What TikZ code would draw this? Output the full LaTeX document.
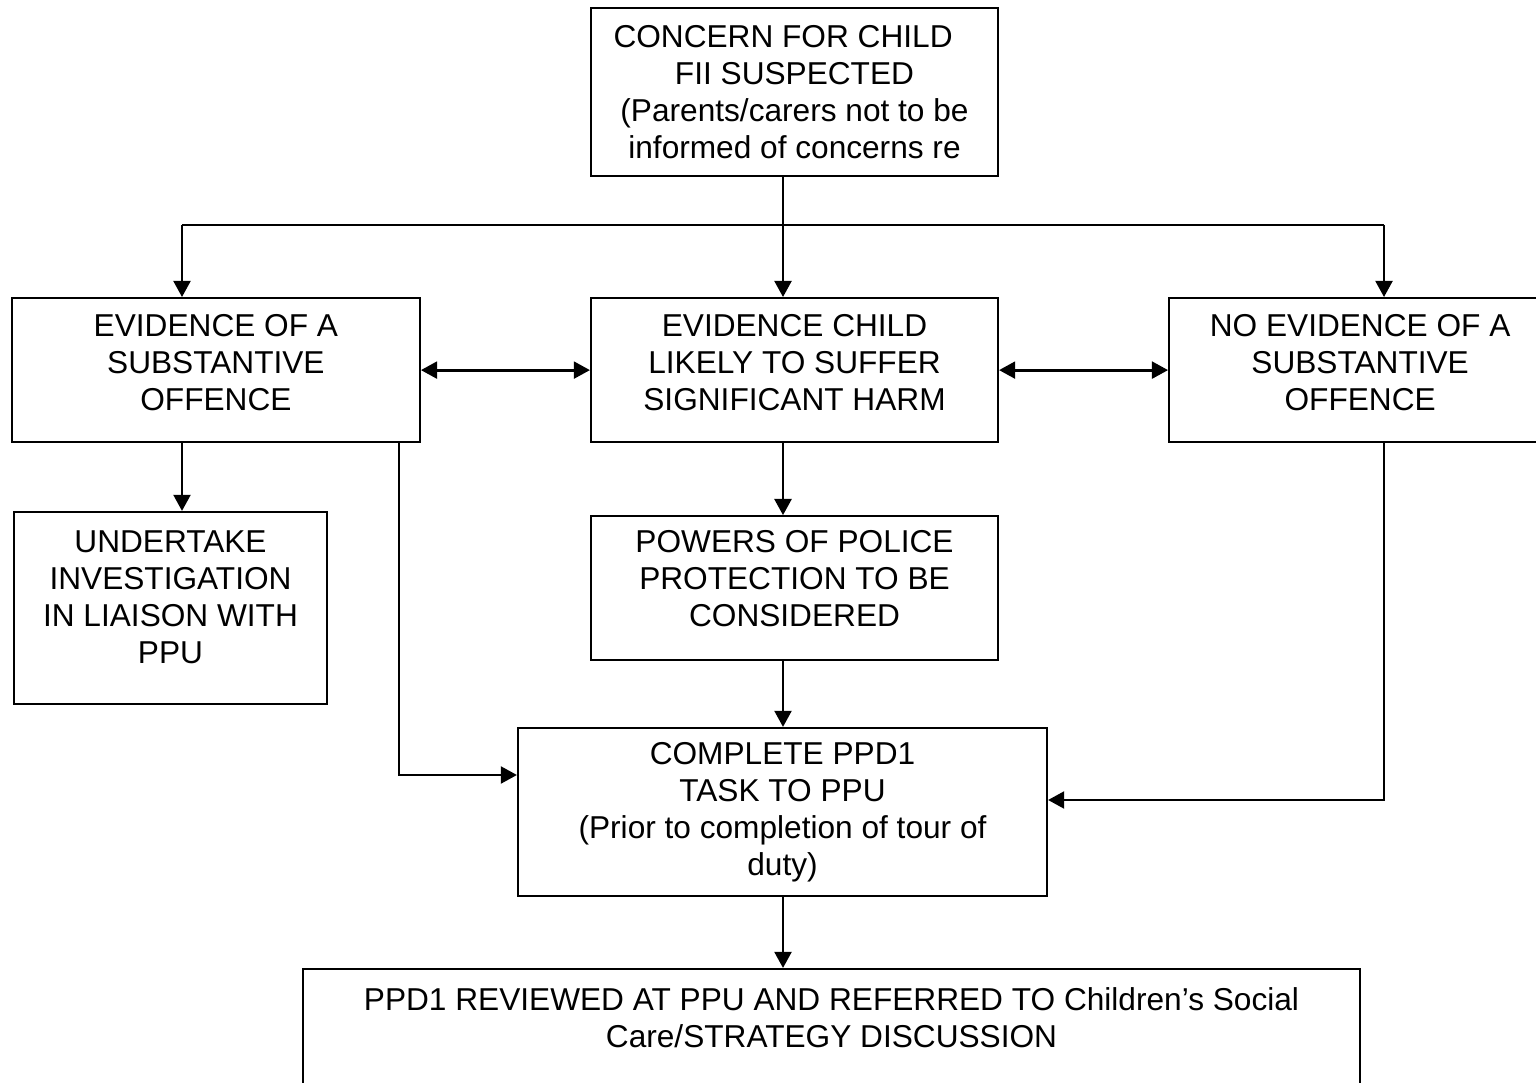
\documentclass[tikz,border=0pt]{standalone}
\usepackage{fontspec}
\setmainfont{Liberation Sans}
\usetikzlibrary{arrows.meta,positioning}

\begin{document}
\begin{tikzpicture}[node distance=7.2mm and 16.9mm,>={Triangle[length=4.6pt,width=4.8pt]},
 box/.style={draw,line width=.6pt,align=center,minimum width=40.7mm,minimum height=14.4mm,inner sep=3pt,font=\fontsize{9}{10.5}\selectfont},
 link/.style={line width=.8pt}]
\useasboundingbox (0,0) rectangle (15.36,-10.83);
\clip (0,0) rectangle (15.36,-10.83);
\node[box,minimum height=16.8mm] (top) at (7.945,-0.92) {CONCERN FOR CHILD\hspace*{6.5pt}\\FII SUSPECTED\\(Parents/carers not to be\\informed of concerns re};
\node[box,below=12mm of top] (mid) {EVIDENCE CHILD\\LIKELY TO SUFFER\\SIGNIFICANT HARM\\[-6pt]\mbox{}};
\node[box,left=of mid,minimum width=40.8mm] (left) {EVIDENCE OF A\\SUBSTANTIVE\\OFFENCE\\[-6pt]\mbox{}};
\node[box,right=of mid,minimum width=38.2mm] (right) {NO EVIDENCE OF A\\SUBSTANTIVE\\OFFENCE\\[-6pt]\mbox{}};
\node[box,below=of mid] (powers) {POWERS OF POLICE\\PROTECTION TO BE\\CONSIDERED\\[-4.8pt]\mbox{}};
\node[box,minimum width=31.3mm,minimum height=19.2mm] (undertake) at (1.705,-6.08) {UNDERTAKE\\INVESTIGATION\\IN LIAISON WITH\\PPU\\[-4.3pt]\mbox{}};
\node[box,minimum width=52.9mm,minimum height=16.8mm] (complete) at (7.825,-8.12) {COMPLETE PPD1\\TASK TO PPU\\(Prior to completion of tour of\\duty)};
\node[box,minimum width=105.7mm,minimum height=13.4mm,anchor=north] (final) at (8.315,-9.68) {PPD1 REVIEWED AT PPU AND REFERRED TO Children’s Social\\Care/STRATEGY DISCUSSION\\ \mbox{}};
% bus under the first box and bends into the PPD1 box
\coordinate (busM) at (7.83,-2.25);
\coordinate (busL) at (1.82,-2.25);
\coordinate (busR) at (13.84,-2.25);
\coordinate (bendL) at (3.99,-7.75);
\coordinate (bendR) at (13.84,-8.00);
\draw[link] (top.south -| busM) -- (busM);
\draw[link] (busL) -- (busR);
\draw[link,->] (busL) -- (busL |- left.north);
\draw[link,->] (busM) -- (busM |- mid.north);
\draw[link,->] (busR) -- (busR |- right.north);
\draw[link,<->] (left) -- (mid);
\draw[link,<->] (mid) -- (right);
\draw[link,->] (busL |- left.south) -- (busL |- undertake.north);
\draw[link,->] (busM |- mid.south) -- (busM |- powers.north);
\draw[link,->] (busM |- powers.south) -- (busM |- complete.north);
\draw[link,->] (bendL |- left.south) -- (bendL) -- (bendL -| complete.west);
\draw[link,->] (bendR |- right.south) -- (bendR) -- (bendR -| complete.east);
\draw[link,->] (busM |- complete.south) -- (busM |- final.north);
\end{tikzpicture}
\end{document}
